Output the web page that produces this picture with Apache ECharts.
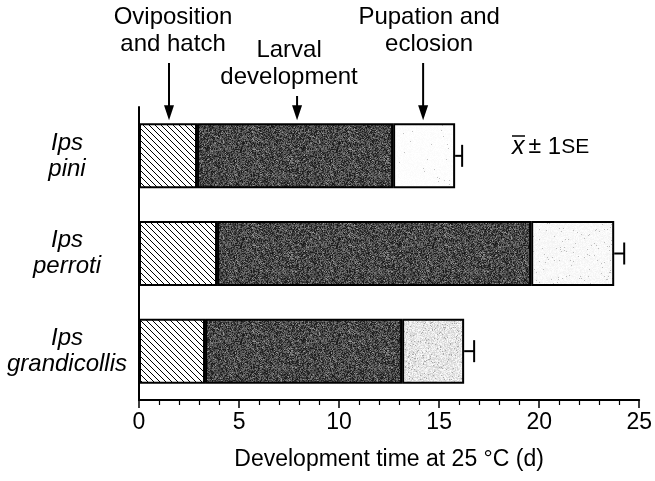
<!DOCTYPE html>
<html>
<head>
<meta charset="utf-8">
<script src="https://cdn.jsdelivr.net/npm/echarts@6/dist/echarts.min.js"></script>
<style>
  html, body { margin: 0; padding: 0; background: #fff; }
  #chart { width: 655px; height: 481px; }
</style>
</head>
<body>
<div id="chart"></div>
<script>
// Development stages of three bark beetles at 25 °C (days)
const species = ['Ips pini', 'Ips perroti', 'Ips grandicollis'];
const ovipositionHatch = [2.9, 3.9, 3.3];
const larvalDevelopment = [9.8, 15.7, 9.85];
const pupationEclosion = [3.1, 4.15, 3.1];
const totalSE = [0.35, 0.5, 0.5];
const xTickValues = [0, 5, 10, 15, 20, 25];
const stageLabels = ['Oviposition\nand hatch', 'Larval\ndevelopment', 'Pupation and\neclosion'];
const stageArrowDays = [1.5, 7.9, 14.2];

const FONT = '"Liberation Sans", Arial, Helvetica, sans-serif';

// ---- fill textures ----
function hatchPattern() {
  const s = 6;
  const c = document.createElement('canvas');
  c.width = s; c.height = s;
  const g = c.getContext('2d');
  g.fillStyle = '#fff';
  g.fillRect(0, 0, s, s);
  g.strokeStyle = '#000';
  g.lineWidth = 1;
  for (const k of [-s, 0, s]) {
    g.beginPath();
    g.moveTo(k, 0);
    g.lineTo(k + s, s);
    g.stroke();
  }
  return c;
}

function stipplePattern(base, spread, dotChance, dotShade, seed) {
  const n = 96;
  const c = document.createElement('canvas');
  c.width = n; c.height = n;
  const g = c.getContext('2d');
  const img = g.createImageData(n, n);
  let s = seed >>> 0;
  const next = () => { s = (Math.imul(s, 1664525) + 1013904223) >>> 0; return s / 4294967296; };
  for (let i = 0; i < n * n; i++) {
    let v = base + (next() - 0.5) * spread;
    if (next() < dotChance) v = dotShade;
    v = Math.max(0, Math.min(255, Math.round(v)));
    img.data[i * 4] = v;
    img.data[i * 4 + 1] = v;
    img.data[i * 4 + 2] = v;
    img.data[i * 4 + 3] = 255;
  }
  g.putImageData(img, 0, 0);
  return c;
}

const hatchFill = { image: hatchPattern(), repeat: 'repeat' };
const darkFill = { image: stipplePattern(70, 100, 0.04, 150, 7), repeat: 'repeat' };
const paleFill = { image: stipplePattern(253, 6, 0.006, 195, 11), repeat: 'repeat' };
const softFill = { image: stipplePattern(248, 12, 0.02, 190, 13), repeat: 'repeat' };
const greyFill = { image: stipplePattern(230, 45, 0.05, 170, 19), repeat: 'repeat' };
const pupalFills = [paleFill, softFill, greyFill];

const barBorder = { borderColor: '#000', borderWidth: 2 };
const BAR_W = 65;

const totals = species.map((_, i) => ovipositionHatch[i] + larvalDevelopment[i] + pupationEclosion[i]);

const chart = echarts.init(document.getElementById('chart'), null, { renderer: 'canvas' });

const option = {
  animation: false,
  backgroundColor: '#fff',
  grid: { left: 139, right: 11, top: 107, bottom: 81, containLabel: false },
  xAxis: {
    type: 'value',
    min: xTickValues[0],
    max: xTickValues[xTickValues.length - 1],
    interval: xTickValues[1] - xTickValues[0],
    name: 'Development time at 25 °C (d)',
    nameLocation: 'middle',
    nameGap: 48,
    nameTextStyle: { color: '#000', fontSize: 23, fontFamily: FONT },
    axisLine: { show: true, lineStyle: { color: '#000', width: 2 } },
    axisTick: { show: true, length: 8, lineStyle: { color: '#000', width: 1.5 } },
    minorTick: { show: true, splitNumber: 5, length: 5, lineStyle: { color: '#000', width: 1.2 } },
    splitLine: { show: false },
    axisLabel: { color: '#000', fontSize: 23, fontFamily: FONT, margin: 11 }
  },
  yAxis: {
    type: 'category',
    data: species,
    inverse: true,
    axisLine: { show: true, lineStyle: { color: '#000', width: 2 } },
    axisTick: { show: false },
    splitLine: { show: false },
    axisLabel: {
      color: '#000',
      fontSize: 24,
      fontStyle: 'italic',
      fontFamily: FONT,
      align: 'center',
      margin: 72,
      lineHeight: 26,
      formatter: (v) => v.replace(' ', '\n')
    }
  },
  series: [
    {
      name: 'Oviposition and hatch',
      type: 'bar',
      stack: 'dev',
      barWidth: BAR_W,
      itemStyle: Object.assign({ color: hatchFill }, barBorder),
      data: ovipositionHatch
    },
    {
      name: 'Larval development',
      type: 'bar',
      stack: 'dev',
      barWidth: BAR_W,
      itemStyle: Object.assign({ color: darkFill }, barBorder),
      data: larvalDevelopment
    },
    {
      name: 'Pupation and eclosion',
      type: 'bar',
      stack: 'dev',
      barWidth: BAR_W,
      itemStyle: barBorder,
      data: pupationEclosion.map((v, i) => ({ value: v, itemStyle: { color: pupalFills[i] } }))
    },
    {
      name: 'SE',
      type: 'custom',
      encode: { x: 0, y: 1 },
      z: 5,
      data: species.map((_, i) => [totals[i], i, totalSE[i]]),
      renderItem: (params, api) => {
        const idx = api.value(1);
        const a = api.coord([api.value(0), idx]);
        const b = api.coord([api.value(0) + api.value(2), idx]);
        const h = 11;
        return {
          type: 'group',
          children: [
            { type: 'line', shape: { x1: a[0], y1: a[1], x2: b[0], y2: b[1] }, style: { stroke: '#000', lineWidth: 2 } },
            { type: 'line', shape: { x1: b[0], y1: b[1] - h, x2: b[0], y2: b[1] + h }, style: { stroke: '#000', lineWidth: 2 } }
          ]
        };
      }
    }
  ]
};

chart.setOption(option);

// ---- stage annotations with arrows pointing at the first bar ----
const barTop = chart.convertToPixel({ yAxisIndex: 0 }, species[0]) - BAR_W / 2;
const tipY = barTop - 3;
const labelTops = [4, 37, 4];
const labelShift = [4, -8, 6];
const LINE_H = 27;
const graphics = [];

stageArrowDays.forEach((d, i) => {
  const x = chart.convertToPixel({ xAxisIndex: 0 }, d);
  const top = labelTops[i];
  graphics.push({
    type: 'text',
    silent: true,
    style: {
      text: stageLabels[i],
      x: x + labelShift[i],
      y: top,
      align: 'center',
      verticalAlign: 'top',
      font: '24px ' + FONT,
      lineHeight: LINE_H,
      fill: '#000'
    }
  });
  const startY = top + 2 * LINE_H + 5;
  graphics.push({
    type: 'line', silent: true,
    shape: { x1: x, y1: startY, x2: x, y2: tipY - 12 },
    style: { stroke: '#000', lineWidth: 2 }
  });
  graphics.push({
    type: 'polygon', silent: true,
    shape: { points: [[x - 5, tipY - 15], [x + 5, tipY - 15], [x, tipY]] },
    style: { fill: '#000' }
  });
});

// ---- mean ± 1 SE key ----
const keyX = 512, keyY = 147;
graphics.push({
  type: 'text',
  silent: true,
  style: {
    text: '{x|x}{pm|±}{one| 1}{se|SE}',
    x: keyX,
    y: keyY,
    align: 'left',
    verticalAlign: 'middle',
    rich: {
      x: { fontSize: 25, fontStyle: 'italic', fontFamily: FONT, fill: '#000' },
      pm: { fontSize: 23, fontFamily: FONT, fill: '#000', padding: [0, 0, 0, 4] },
      one: { fontSize: 24, fontFamily: FONT, fill: '#000' },
      se: { fontSize: 21, fontFamily: FONT, fill: '#000' }
    }
  }
});
graphics.push({
  type: 'line', silent: true,
  shape: { x1: keyX, y1: keyY - 11, x2: keyX + 13, y2: keyY - 11 },
  style: { stroke: '#000', lineWidth: 1.5 }
});

chart.setOption({ graphic: graphics });
</script>
</body>
</html>
